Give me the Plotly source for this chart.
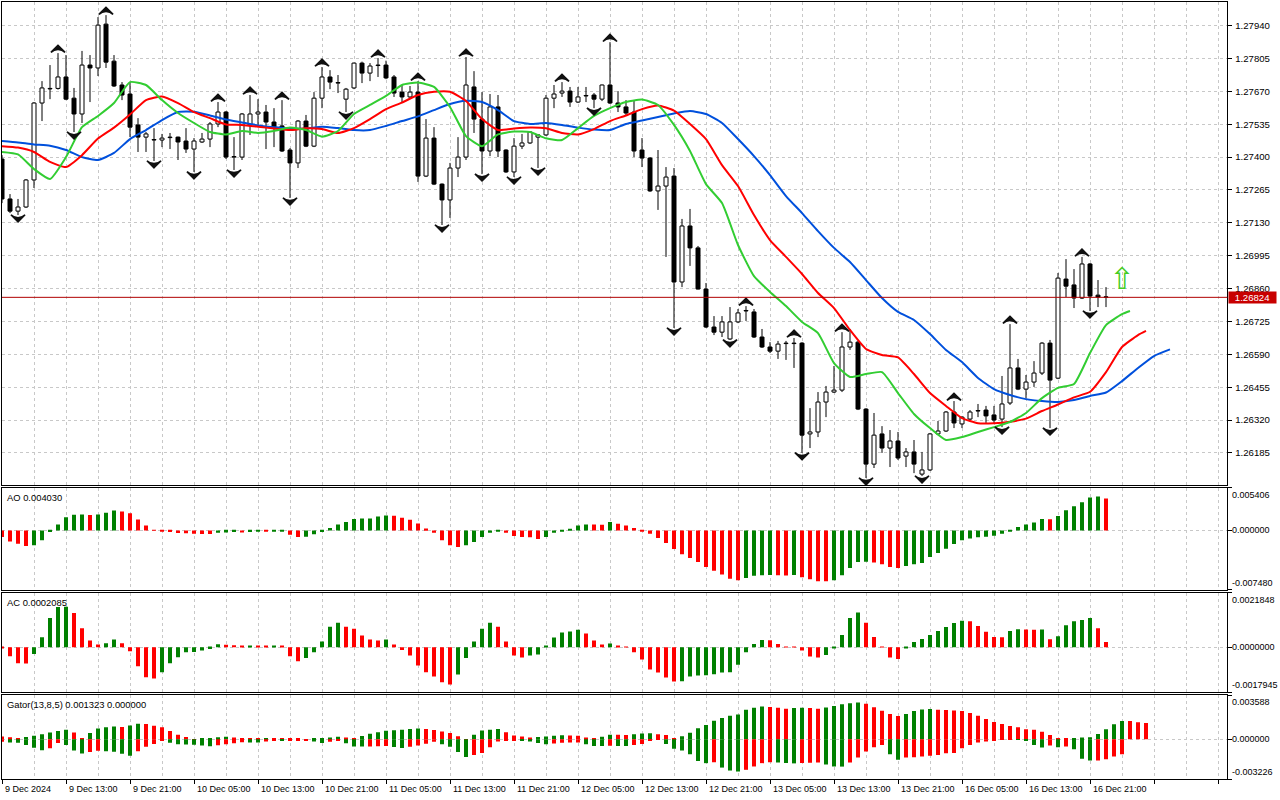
import plotly.graph_objects as go

# ---------------- data ----------------
open_ = [
1.27392, 1.27228, 1.27178, 1.27195, 1.27306, 1.27622, 1.27680, 1.27682, 1.27729, 1.27642,
1.27577, 1.27778, 1.27766, 1.27946, 1.27794, 1.27696, 1.27659, 1.27532, 1.27482, 1.27472,
1.27470, 1.27480, 1.27482, 1.27466, 1.27433, 1.27462, 1.27474, 1.27536, 1.27585, 1.27402,
1.27400, 1.27532, 1.27577, 1.27585, 1.27544, 1.27528, 1.27429, 1.27376, 1.27548, 1.27445,
1.27642, 1.27729, 1.27706, 1.27638, 1.27684, 1.27786, 1.27745, 1.27776, 1.27778, 1.27729,
1.27667, 1.27647, 1.27667, 1.27322, 1.27478, 1.27289, 1.27224, 1.27355, 1.27400, 1.27688,
1.27556, 1.27425, 1.27606, 1.27429, 1.27339, 1.27445, 1.27458, 1.27482, 1.27491, 1.27642,
1.27663, 1.27671, 1.27626, 1.27651, 1.27655, 1.27638, 1.27696, 1.27622, 1.27606, 1.27585,
1.27429, 1.27396, 1.27261, 1.27281, 1.27322, 1.26887, 1.27117, 1.27027, 1.26858, 1.26702,
1.26681, 1.26653, 1.26723, 1.26768, 1.26764, 1.26661, 1.26620, 1.26603, 1.26634, 1.26634,
1.26636, 1.26263, 1.26271, 1.26394, 1.26435, 1.26443, 1.26620, 1.26640, 1.26365, 1.26139,
1.26263, 1.26205, 1.26234, 1.26172, 1.26189, 1.26098, 1.26115, 1.26263, 1.26275, 1.26353,
1.26304, 1.26324, 1.26357, 1.26361, 1.26341, 1.26324, 1.26390, 1.26534, 1.26447, 1.26476,
1.26513, 1.26636, 1.26492, 1.26899, 1.26875, 1.26821, 1.26961, 1.26833, 1.26826]
high_ = [
1.27408, 1.27248, 1.27228, 1.27310, 1.27626, 1.27712, 1.27778, 1.27827, 1.27819, 1.27684,
1.27836, 1.27819, 1.27975, 1.27983, 1.27819, 1.27708, 1.27708, 1.27560, 1.27503, 1.27519,
1.27495, 1.27499, 1.27484, 1.27519, 1.27478, 1.27499, 1.27544, 1.27626, 1.27589, 1.27482,
1.27581, 1.27655, 1.27638, 1.27614, 1.27601, 1.27634, 1.27437, 1.27552, 1.27573, 1.27667,
1.27770, 1.27757, 1.27737, 1.27684, 1.27788, 1.27792, 1.27786, 1.27807, 1.27796, 1.27737,
1.27696, 1.27692, 1.27712, 1.27556, 1.27523, 1.27292, 1.27376, 1.27482, 1.27811, 1.27753,
1.27667, 1.27659, 1.27655, 1.27432, 1.27478, 1.27495, 1.27507, 1.27493, 1.27655, 1.27696,
1.27708, 1.27688, 1.27688, 1.27688, 1.27663, 1.27698, 1.27872, 1.27671, 1.27634, 1.27634,
1.27478, 1.27400, 1.27429, 1.27359, 1.27355, 1.27146, 1.27187, 1.27035, 1.26883, 1.26747,
1.26747, 1.26784, 1.26776, 1.26788, 1.26776, 1.26694, 1.26640, 1.26645, 1.26645, 1.26657,
1.26640, 1.26369, 1.26435, 1.26460, 1.26542, 1.26681, 1.26694, 1.26645, 1.26369, 1.26349,
1.26295, 1.26279, 1.26271, 1.26205, 1.26238, 1.26189, 1.26267, 1.26316, 1.26357, 1.26398,
1.26335, 1.26361, 1.26386, 1.26378, 1.26378, 1.26501, 1.26714, 1.26571, 1.26505, 1.26562,
1.26640, 1.26649, 1.26924, 1.26981, 1.26940, 1.26990, 1.26965, 1.26895, 1.26866]
low_ = [
1.27211, 1.27170, 1.27162, 1.27191, 1.27273, 1.27548, 1.27638, 1.27677, 1.27634, 1.27503,
1.27540, 1.27626, 1.27733, 1.27766, 1.27688, 1.27634, 1.27482, 1.27421, 1.27421, 1.27384,
1.27441, 1.27433, 1.27388, 1.27417, 1.27339, 1.27458, 1.27441, 1.27523, 1.27392, 1.27347,
1.27388, 1.27491, 1.27532, 1.27433, 1.27441, 1.27421, 1.27232, 1.27355, 1.27441, 1.27441,
1.27601, 1.27679, 1.27663, 1.27585, 1.27679, 1.27704, 1.27712, 1.27729, 1.27720, 1.27647,
1.27622, 1.27642, 1.27298, 1.27318, 1.27285, 1.27121, 1.27150, 1.27318, 1.27388, 1.27499,
1.27330, 1.27404, 1.27400, 1.27335, 1.27318, 1.27433, 1.27454, 1.27355, 1.27487, 1.27601,
1.27647, 1.27606, 1.27622, 1.27626, 1.27601, 1.27630, 1.27618, 1.27585, 1.27569, 1.27400,
1.27359, 1.27257, 1.27183, 1.26990, 1.26698, 1.26866, 1.26953, 1.26856, 1.26698, 1.26669,
1.26661, 1.26649, 1.26718, 1.26727, 1.26657, 1.26616, 1.26595, 1.26571, 1.26567, 1.26534,
1.26185, 1.26205, 1.26250, 1.26332, 1.26431, 1.26435, 1.26608, 1.26361, 1.26082, 1.26123,
1.26185, 1.26127, 1.26156, 1.26127, 1.26102, 1.26090, 1.26111, 1.26258, 1.26271, 1.26287,
1.26287, 1.26320, 1.26332, 1.26308, 1.26308, 1.26291, 1.26382, 1.26443, 1.26410, 1.26456,
1.26505, 1.26287, 1.26488, 1.26825, 1.26780, 1.26817, 1.26768, 1.26784, 1.26784]
close_ = [
1.27228, 1.27178, 1.27195, 1.27306, 1.27622, 1.27684, 1.27682, 1.27729, 1.27638, 1.27577,
1.27778, 1.27766, 1.27942, 1.27790, 1.27692, 1.27655, 1.27523, 1.27482, 1.27495, 1.27470,
1.27478, 1.27482, 1.27462, 1.27433, 1.27466, 1.27474, 1.27536, 1.27585, 1.27400, 1.27400,
1.27577, 1.27577, 1.27585, 1.27544, 1.27519, 1.27425, 1.27376, 1.27548, 1.27445, 1.27642,
1.27729, 1.27708, 1.27704, 1.27679, 1.27786, 1.27745, 1.27774, 1.27778, 1.27725, 1.27663,
1.27647, 1.27667, 1.27322, 1.27478, 1.27289, 1.27224, 1.27355, 1.27400, 1.27696, 1.27556,
1.27425, 1.27606, 1.27425, 1.27339, 1.27445, 1.27458, 1.27503, 1.27491, 1.27642, 1.27659,
1.27671, 1.27626, 1.27647, 1.27653, 1.27638, 1.27696, 1.27622, 1.27606, 1.27581, 1.27425,
1.27396, 1.27261, 1.27281, 1.27318, 1.26887, 1.27117, 1.27027, 1.26858, 1.26702, 1.26681,
1.26723, 1.26723, 1.26760, 1.26770, 1.26661, 1.26620, 1.26603, 1.26632, 1.26636, 1.26636,
1.26258, 1.26271, 1.26394, 1.26435, 1.26443, 1.26620, 1.26640, 1.26365, 1.26139, 1.26258,
1.26205, 1.26234, 1.26164, 1.26189, 1.26139, 1.26115, 1.26263, 1.26275, 1.26353, 1.26308,
1.26332, 1.26353, 1.26359, 1.26337, 1.26320, 1.26386, 1.26534, 1.26447, 1.26476, 1.26513,
1.26636, 1.26484, 1.26903, 1.26870, 1.26821, 1.26961, 1.26829, 1.26825, 1.26824]

# Alligator lines (read every second bar; shifted forward past the last candle)
jaw_idx = list(range(0, 147, 2))
jaw = [
1.27466, 1.27460, 1.27452, 1.27447, 1.27429, 1.27400, 1.27388, 1.27417, 1.27474, 1.27511,
1.27552, 1.27585, 1.27586, 1.27571, 1.27554, 1.27542, 1.27530, 1.27523, 1.27517, 1.27517,
1.27525, 1.27519, 1.27511, 1.27511, 1.27528, 1.27548, 1.27567, 1.27593, 1.27618, 1.27631,
1.27626, 1.27593, 1.27548, 1.27536, 1.27540, 1.27532, 1.27521, 1.27513, 1.27511, 1.27536,
1.27550, 1.27565, 1.27579, 1.27589, 1.27577, 1.27540, 1.27474, 1.27404, 1.27326, 1.27240,
1.27170, 1.27096, 1.27027, 1.26969, 1.26895, 1.26821, 1.26764, 1.26731, 1.26673, 1.26608,
1.26558, 1.26493, 1.26447, 1.26423, 1.26406, 1.26398, 1.26394, 1.26402, 1.26419, 1.26433,
1.26480, 1.26534, 1.26583, 1.26610]
teeth_idx = list(range(0, 143, 2)) + [143]
teeth = [
1.27445, 1.27439, 1.27421, 1.27380, 1.27359, 1.27408, 1.27476, 1.27521, 1.27575, 1.27634,
1.27649, 1.27622, 1.27585, 1.27560, 1.27534, 1.27532, 1.27525, 1.27517, 1.27511, 1.27518,
1.27515, 1.27499, 1.27519, 1.27556, 1.27597, 1.27624, 1.27655, 1.27668, 1.27668, 1.27630,
1.27556, 1.27511, 1.27517, 1.27521, 1.27518, 1.27499, 1.27493, 1.27515, 1.27548, 1.27571,
1.27597, 1.27612, 1.27591, 1.27536, 1.27474, 1.27367, 1.27281, 1.27162, 1.27059, 1.26990,
1.26920, 1.26842, 1.26780, 1.26690, 1.26612, 1.26587, 1.26577, 1.26509, 1.26431, 1.26378,
1.26328, 1.26307, 1.26307, 1.26313, 1.26326, 1.26357, 1.26384, 1.26413, 1.26436, 1.26517,
1.26620, 1.26669, 1.26686]
lips_idx = list(range(0, 141, 2)) + [141]
lips = [
1.27421, 1.27411, 1.27351, 1.27310, 1.27400, 1.27523, 1.27569, 1.27622, 1.27708, 1.27696,
1.27634, 1.27581, 1.27540, 1.27503, 1.27493, 1.27507, 1.27499, 1.27507, 1.27521, 1.27511,
1.27484, 1.27507, 1.27577, 1.27614, 1.27651, 1.27696, 1.27706, 1.27688, 1.27606, 1.27486,
1.27445, 1.27493, 1.27505, 1.27503, 1.27477, 1.27470, 1.27519, 1.27569, 1.27601, 1.27626,
1.27636, 1.27614, 1.27532, 1.27425, 1.27289, 1.27211, 1.27039, 1.26911, 1.26846, 1.26788,
1.26723, 1.26677, 1.26554, 1.26497, 1.26509, 1.26517, 1.26431, 1.26345, 1.26287, 1.26238,
1.26250, 1.26271, 1.26291, 1.26312, 1.26349, 1.26410, 1.26452, 1.26468, 1.26595, 1.26710,
1.26755, 1.26768]

fractal_up_idx = [7, 13, 27, 31, 35, 40, 47, 52, 58, 70, 76, 93, 99, 105, 119, 126, 135]
fractal_down_idx = [2, 9, 19, 24, 29, 36, 43, 55, 60, 64, 67, 74, 84, 91, 100, 108, 115, 125, 131, 136]

signal_idx = [140]
signal_price = [1.26887]

ao = [
-0.00084, -0.00139, -0.00168, -0.00197, -0.00189, -0.00126, -0.00021, 0.00076, 0.00168, 0.00197,
0.00200, 0.00195, 0.00202, 0.00223, 0.00252, 0.00239, 0.00218, 0.00139, 0.00063, 0.00008,
-0.00008, -0.00021, -0.00034, -0.00036, -0.00042, -0.00044, -0.00045, -0.00029, -0.00025, -0.00021,
-0.00027, -0.00020, -0.00013, -0.00015, -0.00008, -0.00004, -0.00055, -0.00084, -0.00080, -0.00050,
-0.00020, 0.00029, 0.00076, 0.00105, 0.00143, 0.00151, 0.00152, 0.00176, 0.00189, 0.00185,
0.00160, 0.00134, 0.00088, 0.00025, -0.00029, -0.00126, -0.00189, -0.00210, -0.00189, -0.00147,
-0.00084, -0.00029, -0.00008, -0.00029, -0.00071, -0.00084, -0.00086, -0.00109, -0.00084, -0.00029,
-0.00008, 0.00017, 0.00063, 0.00076, 0.00074, 0.00072, 0.00105, 0.00084, 0.00063, 0.00029,
-0.00008, -0.00042, -0.00097, -0.00160, -0.00235, -0.00302, -0.00349, -0.00399, -0.00462, -0.00512,
-0.00559, -0.00613, -0.00630, -0.00601, -0.00575, -0.00567, -0.00565, -0.00569, -0.00571, -0.00566,
-0.00592, -0.00617, -0.00643, -0.00644, -0.00630, -0.00567, -0.00475, -0.00399, -0.00397, -0.00407,
-0.00428, -0.00462, -0.00475, -0.00449, -0.00428, -0.00412, -0.00336, -0.00286, -0.00231, -0.00172,
-0.00126, -0.00101, -0.00088, -0.00080, -0.00067, -0.00042, -0.00004, 0.00042, 0.00076, 0.00101,
0.00143, 0.00141, 0.00181, 0.00256, 0.00307, 0.00357, 0.00416, 0.00428, 0.00403]
ac = [
-0.00003, -0.00036, -0.00064, -0.00065, -0.00027, 0.00040, 0.00116, 0.00160, 0.00161, 0.00136,
0.00076, 0.00027, 0.00011, 0.00016, 0.00031, 0.00016, -0.00016, -0.00076, -0.00120, -0.00125,
-0.00100, -0.00064, -0.00040, -0.00020, -0.00019, -0.00013, -0.00007, 0.00012, 0.00010, 0.00008,
0.00003, 0.00006, 0.00004, 0.00003, 0.00006, 0.00005, -0.00036, -0.00056, -0.00043, -0.00020,
0.00023, 0.00082, 0.00098, 0.00082, 0.00074, 0.00047, 0.00031, 0.00027, 0.00031, 0.00011,
-0.00011, -0.00033, -0.00073, -0.00100, -0.00117, -0.00140, -0.00149, -0.00109, -0.00043, 0.00023,
0.00074, 0.00098, 0.00082, 0.00023, -0.00033, -0.00041, -0.00033, -0.00029, 0.00003, 0.00039,
0.00059, 0.00063, 0.00070, 0.00055, 0.00027, 0.00011, 0.00015, 0.00003, -0.00001, -0.00020,
-0.00049, -0.00089, -0.00101, -0.00121, -0.00137, -0.00136, -0.00117, -0.00113, -0.00112, -0.00108,
-0.00101, -0.00100, -0.00070, -0.00020, 0.00013, 0.00029, 0.00028, 0.00013, 0.00001, -0.00001,
-0.00013, -0.00037, -0.00041, -0.00031, -0.00004, 0.00049, 0.00116, 0.00138, 0.00098, 0.00041,
-0.00001, -0.00041, -0.00047, -0.00004, 0.00021, 0.00033, 0.00049, 0.00065, 0.00081, 0.00097,
0.00105, 0.00104, 0.00085, 0.00062, 0.00041, 0.00040, 0.00065, 0.00072, 0.00071, 0.00070,
0.00071, 0.00032, 0.00044, 0.00088, 0.00104, 0.00108, 0.00116, 0.00076, 0.00021]
gator_upper = [
0.00022, 0.00016, 0.00010, 0.00018, 0.00028, 0.00040, 0.00055, 0.00066, 0.00076, 0.00054,
0.00010, 0.00050, 0.00088, 0.00098, 0.00104, 0.00100, 0.00112, 0.00126, 0.00123, 0.00110,
0.00097, 0.00067, 0.00037, 0.00019, 0.00001, 0.00006, 0.00011, 0.00016, 0.00020, 0.00015,
0.00010, 0.00007, 0.00005, 0.00006, 0.00006, 0.00006, 0.00006, 0.00003, 0.00001, 0.00005,
0.00010, 0.00015, 0.00020, 0.00014, 0.00008, 0.00026, 0.00045, 0.00057, 0.00069, 0.00073,
0.00076, 0.00082, 0.00088, 0.00082, 0.00075, 0.00062, 0.00050, 0.00025, 0.00001, 0.00036,
0.00070, 0.00076, 0.00082, 0.00056, 0.00031, 0.00023, 0.00015, 0.00019, 0.00022, 0.00028,
0.00033, 0.00030, 0.00028, 0.00015, 0.00002, 0.00020, 0.00037, 0.00036, 0.00035, 0.00041,
0.00047, 0.00049, 0.00040, 0.00035, 0.00005, 0.00025, 0.00053, 0.00090, 0.00115, 0.00150,
0.00173, 0.00190, 0.00200, 0.00240, 0.00255, 0.00265, 0.00262, 0.00256, 0.00248, 0.00253,
0.00256, 0.00254, 0.00248, 0.00258, 0.00270, 0.00283, 0.00292, 0.00298, 0.00287, 0.00260,
0.00232, 0.00205, 0.00188, 0.00205, 0.00228, 0.00242, 0.00245, 0.00240, 0.00237, 0.00233,
0.00228, 0.00212, 0.00190, 0.00165, 0.00140, 0.00124, 0.00108, 0.00097, 0.00081, 0.00076,
0.00060, 0.00035, 0.00010, 0.00006, 0.00011, 0.00015, 0.00017, 0.00043, 0.00081, 0.00122,
0.00148, 0.00147, 0.00138, 0.001323]
gator_lower = [
-0.00020, -0.00027, -0.00028, -0.00046, -0.00070, -0.00090, -0.00073, -0.00030, -0.00046, -0.00092,
-0.00115, -0.00104, -0.00093, -0.00097, -0.00101, -0.00117, -0.00133, -0.00098, -0.00062, -0.00038,
-0.00015, -0.00028, -0.00041, -0.00043, -0.00045, -0.00051, -0.00057, -0.00049, -0.00041, -0.00033,
-0.00025, -0.00026, -0.00027, -0.00018, -0.00010, -0.00011, -0.00010, -0.00008, -0.00007, -0.00019,
-0.00031, -0.00020, -0.00008, -0.00033, -0.00058, -0.00059, -0.00058, -0.00056, -0.00054, -0.00063,
-0.00072, -0.00062, -0.00051, -0.00036, -0.00020, -0.00041, -0.00062, -0.00103, -0.00144, -0.00128,
-0.00111, -0.00065, -0.00018, -0.00015, -0.00012, -0.00015, -0.00018, -0.00030, -0.00041, -0.00035,
-0.00029, -0.00027, -0.00026, -0.00040, -0.00054, -0.00055, -0.00053, -0.00054, -0.00055, -0.00047,
-0.00039, -0.00014, -0.00005, -0.00038, -0.00078, -0.00092, -0.00122, -0.00176, -0.00194, -0.00186,
-0.00230, -0.00254, -0.00262, -0.00248, -0.00221, -0.00194, -0.00186, -0.00188, -0.00192, -0.00196,
-0.00193, -0.00190, -0.00188, -0.00205, -0.00221, -0.00222, -0.00189, -0.00149, -0.00100, -0.00065,
-0.00046, -0.00122, -0.00167, -0.00149, -0.00146, -0.00140, -0.00135, -0.00127, -0.00113, -0.00112,
-0.00073, -0.00046, -0.00027, -0.00019, -0.00010, -0.00005, -0.00001, -0.00003, -0.00011, -0.00046,
-0.00068, -0.00051, -0.00065, -0.00059, -0.00081, -0.00159, -0.00173, -0.00172, -0.00162, -0.00140,
-0.00122]

price_ticks = [1.26185, 1.26320, 1.26455, 1.26590, 1.26725, 1.26860, 1.26995,
               1.27130, 1.27265, 1.27400, 1.27535, 1.27670, 1.27805, 1.27940]
time_tick_idx = list(range(0, 137, 8))
time_tick_labels = ["9 Dec 2024", "9 Dec 13:00", "9 Dec 21:00", "10 Dec 05:00", "10 Dec 13:00",
                    "10 Dec 21:00", "11 Dec 05:00", "11 Dec 13:00", "11 Dec 21:00", "12 Dec 05:00",
                    "12 Dec 13:00", "12 Dec 21:00", "13 Dec 05:00", "13 Dec 13:00", "13 Dec 21:00",
                    "16 Dec 05:00", "16 Dec 13:00", "16 Dec 21:00"]
ao_ticks = [-0.007480, 0.0, 0.005406]
ao_tick_text = ["-0.007480", "0.000000", "0.005406"]
ac_ticks = [-0.0017945, 0.0, 0.0021848]
ac_tick_text = ["-0.0017945", "0.0000000", "0.0021848"]
gator_ticks = [-0.003226, 0.0, 0.003588]
gator_tick_text = ["-0.003226", "0.000000", "0.003588"]
panel_titles = ["AO 0.004030", "AC 0.0002085", "Gator(13,8,5) 0.001323 0.000000"]

# ---------------- layout constants ----------------
W, H = 1280, 800
def row(px):
    return 1 - px / H
XDOM = [2 / W, 1227.3 / W]
XRANGE = [0, (1227.3 - 2) / 8]
MAIN_DOM = [row(485.3), row(1.5)]
AO_DOM = [row(589.5), row(487.7)]
AC_DOM = [row(692.0), row(592.5)]
GT_DOM = [row(779.0), row(695.0)]
MAIN_RANGE = [1.26052, 1.28039]
GRID = "#c8c8c8"
GREEN = "#008000"
RED = "#ff0000"
FONT = "Liberation Sans"
UP_OFF = 0.00032
DN_OFF = 0.00028

bars = list(range(len(close_)))
body_lo = [min(o, c) for o, c in zip(open_, close_)]
body_hi = [max(o, c) for o, c in zip(open_, close_)]
body_fill = ["white" if c >= o else "black" for o, c in zip(open_, close_)]

wx, wy = [], []
for i in bars:
    wx += [i, i, None, i, i, None]
    wy += [body_hi[i], high_[i], None, low_[i], body_lo[i], None]


def rise_colors(vals, use_abs=False):
    out = [RED]
    for a, b in zip(vals, vals[1:]):
        if use_abs:
            out.append(GREEN if abs(b) > abs(a) else RED)
        else:
            out.append(GREEN if b > a else RED)
    return out


fig = go.Figure()
# candles
fig.add_trace(go.Scatter(x=wx, y=wy, mode="lines", line=dict(color="black", width=1),
                         xaxis="x", yaxis="y", hoverinfo="skip"))
fig.add_trace(go.Bar(x=bars, y=[h - l for h, l in zip(body_hi, body_lo)], base=body_lo, width=0.5,
                     marker=dict(color=body_fill, line=dict(color="black", width=1)),
                     xaxis="x", yaxis="y"))
# alligator
for xs, ys, col in [(jaw_idx, jaw, "#0050dc"), (teeth_idx, teeth, "#ff0000"), (lips_idx, lips, "#32cd32")]:
    fig.add_trace(go.Scatter(x=xs, y=ys, mode="lines",
                             line=dict(color=col, width=2, shape="spline", smoothing=0.5),
                             xaxis="x", yaxis="y"))
# fractals
fig.add_trace(go.Scatter(x=fractal_up_idx, y=[high_[i] + UP_OFF for i in fractal_up_idx], mode="markers",
                         marker=dict(symbol="arrow-wide", angle=0, size=10, color="#111111",
                                     line=dict(width=1.6, color="#111111")),
                         xaxis="x", yaxis="y"))
fig.add_trace(go.Scatter(x=fractal_down_idx, y=[low_[i] - DN_OFF for i in fractal_down_idx], mode="markers",
                         marker=dict(symbol="arrow-wide", angle=180, size=10, color="#111111",
                                     line=dict(width=1.6, color="#111111")),
                         xaxis="x", yaxis="y"))
# signal arrow
fig.add_trace(go.Scatter(x=signal_idx, y=signal_price, mode="text", text=["⇧"],
                         textfont=dict(family="DejaVu Sans", size=30, color="#44cc22"),
                         xaxis="x", yaxis="y"))

# indicator histograms
fig.add_trace(go.Bar(x=bars, y=ao, width=0.5, marker=dict(color=rise_colors(ao), line=dict(width=0)),
                     xaxis="x2", yaxis="y2"))
fig.add_trace(go.Bar(x=bars, y=ac, width=0.5, marker=dict(color=rise_colors(ac), line=dict(width=0)),
                     xaxis="x3", yaxis="y3"))
fig.add_trace(go.Bar(x=list(range(len(gator_upper))), y=gator_upper, width=0.5,
                     marker=dict(color=rise_colors(gator_upper, True), line=dict(width=0)),
                     xaxis="x4", yaxis="y4"))
fig.add_trace(go.Bar(x=list(range(len(gator_lower))), y=gator_lower, width=0.5,
                     marker=dict(color=rise_colors(gator_lower, True), line=dict(width=0)),
                     xaxis="x4", yaxis="y4"))


def xax(anchor, ticks):
    return dict(domain=XDOM, range=XRANGE, anchor=anchor, tickmode="linear", tick0=0, dtick=8,
                showgrid=True, gridcolor=GRID, griddash="3px,3px", gridwidth=1,
                minor=dict(tick0=0, dtick=4, showgrid=True, gridcolor=GRID, griddash="3px,3px", ticks=""),
                showline=True, linecolor="black", linewidth=1, mirror=True,
                ticks="outside" if ticks else "", ticklen=4, tickcolor="black",
                showticklabels=False, zeroline=False, fixedrange=True)


def yax(dom, rng, anchor, tickvals):
    return dict(domain=dom, range=rng, anchor=anchor, side="right", tickmode="array", tickvals=tickvals,
                showticklabels=False, ticks="outside", ticklen=4, tickcolor="black",
                showgrid=True, gridcolor=GRID, griddash="3px,3px",
                showline=True, linecolor="black", linewidth=1, mirror=True, zeroline=False, fixedrange=True)


main_y = yax(MAIN_DOM, MAIN_RANGE, "x", price_ticks)
main_y.update(showticklabels=True, tickformat=".5f", ticklabelstandoff=1,
              tickfont=dict(family=FONT, size=9.6, color="black"))

ann = []
for ti, lbl in zip(time_tick_idx, time_tick_labels):
    ann.append(dict(x=ti, xref="x4", y=row(781.5), yref="paper", text=lbl, showarrow=False,
                    xanchor="left", yanchor="top", xshift=1,
                    font=dict(family=FONT, size=9, color="black")))
for title, dom in zip(panel_titles, [AO_DOM, AC_DOM, GT_DOM]):
    ann.append(dict(x=XDOM[0] + 3 / W, xref="paper", y=dom[1] - 2 / H, yref="paper", text=title,
                    showarrow=False, xanchor="left", yanchor="top",
                    font=dict(family=FONT, size=9.4, color="black")))
for yref, vals, texts in [("y2", ao_ticks, ao_tick_text), ("y3", ac_ticks, ac_tick_text),
                          ("y4", gator_ticks, gator_tick_text)]:
    for v, t, anc in zip(vals, texts, ["bottom", "middle", "top"]):
        ann.append(dict(x=XDOM[1] + 3 / W, xref="paper", y=v, yref=yref, text=t, showarrow=False,
                        xanchor="left", yanchor=anc, font=dict(family=FONT, size=9, color="black")))
ann.append(dict(x=XDOM[1] + 1 / W, xref="paper", y=close_[-1], yref="y", text=f"{close_[-1]:.5f}",
                showarrow=False, xanchor="left", yanchor="middle", bgcolor="#c80000", width=47, height=11,
                borderpad=0, font=dict(family=FONT, size=9.6, color="white")))

fig.update_layout(
    width=W, height=H, margin=dict(l=0, r=0, t=0, b=0),
    paper_bgcolor="white", plot_bgcolor="white", showlegend=False, hovermode=False,
    barmode="overlay",
    xaxis=xax("y", False), xaxis2=xax("y2", False), xaxis3=xax("y3", False), xaxis4=xax("y4", True),
    yaxis=main_y,
    yaxis2=yax(AO_DOM, [ao_ticks[0], ao_ticks[2]], "x2", ao_ticks),
    yaxis3=yax(AC_DOM, [ac_ticks[0], ac_ticks[2]], "x3", ac_ticks),
    yaxis4=yax(GT_DOM, [gator_ticks[0], gator_ticks[2]], "x4", gator_ticks),
    annotations=ann,
    shapes=[dict(type="line", xref="x domain", x0=0, x1=1, yref="y", y0=close_[-1], y1=close_[-1],
                 line=dict(color="#b00000", width=1))],
    font=dict(family=FONT, size=10, color="black"),
)

fig.write_html("out.html", config={"displayModeBar": False},
               post_script="document.body.style.margin='0';document.body.style.overflow='hidden';")
